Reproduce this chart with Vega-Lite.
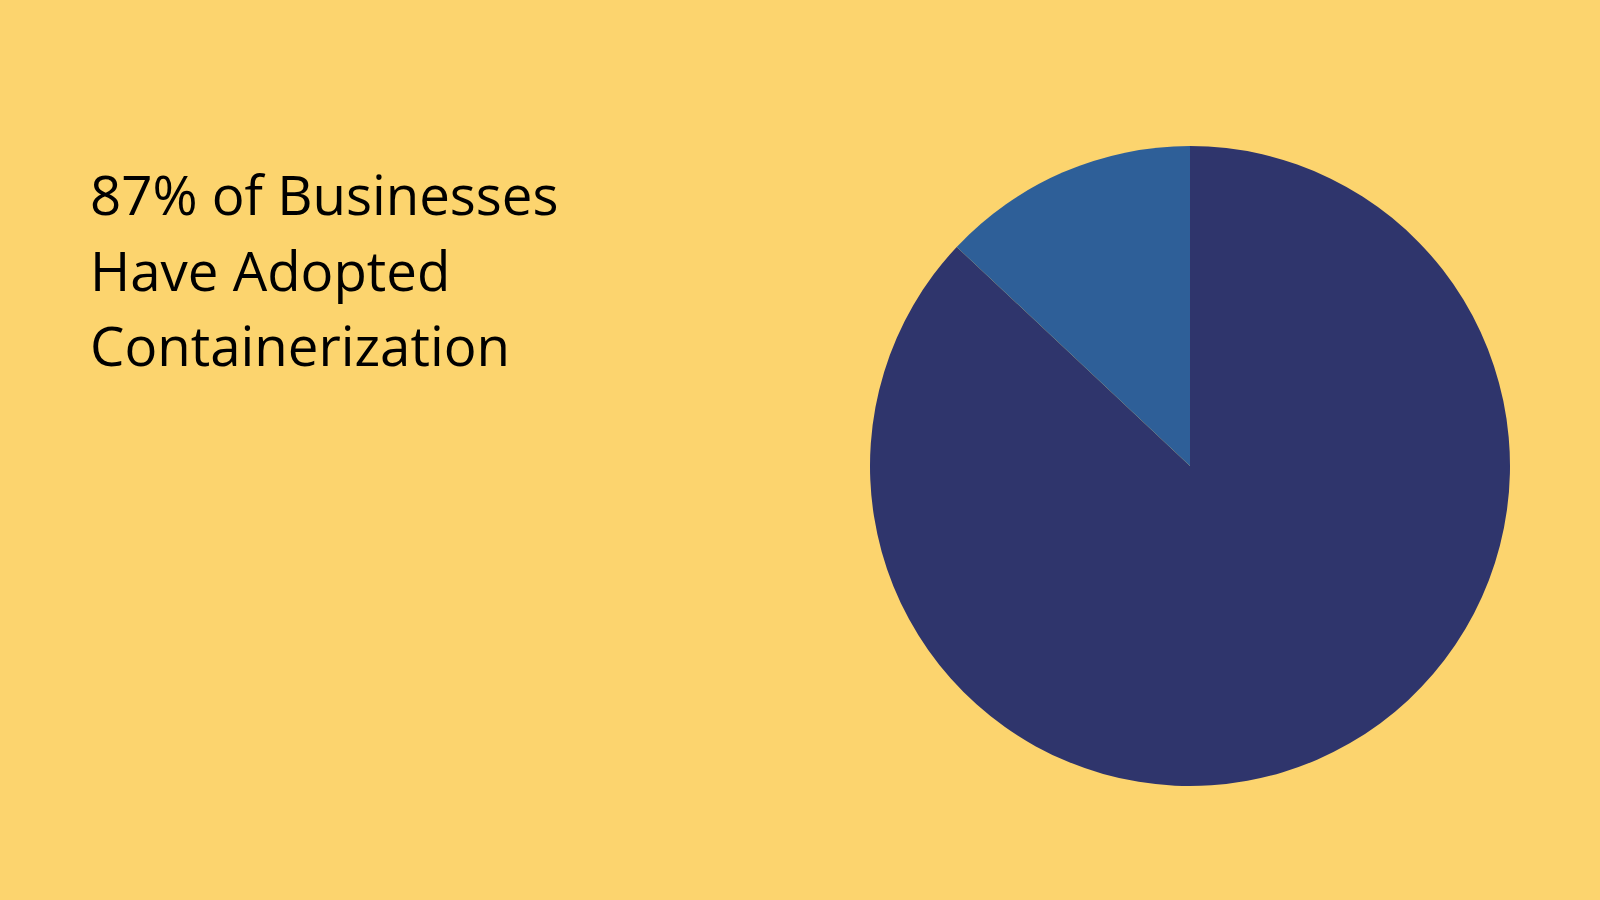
{
  "$schema": "https://vega.github.io/schema/vega-lite/v6.json",
  "width": 640,
  "height": 640,
  "autosize": {"type": "none"},
  "padding": {"left": 870, "top": 146, "right": 90, "bottom": 114},
  "background": "#FCD46E",
  "title": {
    "text": ["87% of Businesses", "Have Adopted", "Containerization"],
    "anchor": "start",
    "frame": "group",
    "orient": "top",
    "offset": 0,
    "dx": -780,
    "dy": 275,
    "baseline": "alphabetic",
    "font": "Open Sans",
    "fontSize": 54.6,
    "fontWeight": "normal",
    "lineHeight": 75.5,
    "color": "#000000"
  },
  "data": {
    "values": [
      {"category": "Adopted containerization", "share": 87, "idx": 1},
      {"category": "Not adopted", "share": 13, "idx": 2}
    ]
  },
  "mark": {"type": "arc", "outerRadius": 320},
  "encoding": {
    "theta": {"field": "share", "type": "quantitative", "stack": true},
    "order": {"field": "idx", "type": "quantitative", "sort": "ascending"},
    "color": {
      "field": "category",
      "type": "nominal",
      "scale": {"domain": ["Adopted containerization", "Not adopted"], "range": ["#2F356C", "#2E5F98"]},
      "legend": null
    }
  },
  "config": {"view": {"stroke": null}}
}
